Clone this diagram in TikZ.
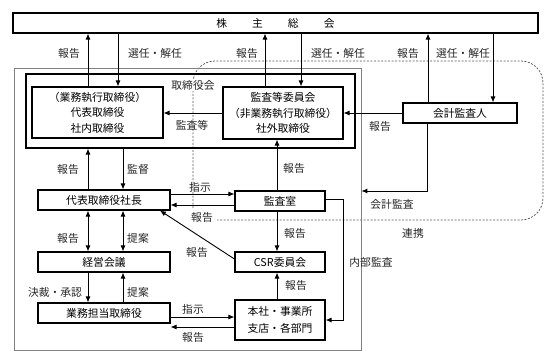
\documentclass[tikz,border=0pt]{standalone}
\usepackage{fontspec}
\setmainfont{Noto Sans CJK JP}
\usetikzlibrary{arrows.meta}
\begin{document}
\begin{tikzpicture}[x=1pt,y=-1pt,
  font=\fontsize{10.8}{15.5}\selectfont,
  box/.style={draw=black,line width=1.1pt,fill=white,rectangle,inner sep=0pt,align=center},
  arr/.style={line width=0.9pt,-{Latex[length=6pt,width=5pt]}},
  darr/.style={line width=0.9pt,{Latex[length=6pt,width=5pt]}-{Latex[length=6pt,width=5pt]}},
  lbl/.style={inner sep=1pt,text=black!85},
  dsh/.style={gray!70!black,line width=0.75pt,dash pattern=on 2pt off 1.5pt}]
\useasboundingbox (0,0) rectangle (556,358);
% dashed cooperation loop
\draw[dsh,rounded corners=22pt] (193,208) -- (193,61) -- (543,61) -- (543,220) -- (217,220);
% outer gray frame and board frame
\node[draw=gray,line width=0.8pt,rectangle,minimum width=347pt,minimum height=282pt,inner sep=0pt] (gray) at (187.5,209) {};
\node[draw=black,line width=1.1pt,rectangle,minimum width=329pt,minimum height=74pt,inner sep=0pt] (board) at (190.5,111) {};
% boxes
\node[box,minimum width=525pt,minimum height=20pt] (top) at (275.5,23) {株\hspace{25pt}主\hspace{25pt}総\hspace{25pt}会};
\node[box,minimum width=131pt,minimum height=51pt] (rep) at (97.5,112.5) {（業務執行取締役）\\代表取締役\\社内取締役};
\node[box,minimum width=120pt,minimum height=52pt] (audcom) at (283,113) {監査等委員会\\（非業務執行取締役）\\社外取締役};
\node[box,minimum width=114pt,minimum height=20pt] (kaikei) at (460,113) {会計監査人};
\node[box,minimum width=132pt,minimum height=20pt] (pres) at (104,200) {代表取締役社長};
\node[box,minimum width=90pt,minimum height=20pt] (kansa) at (280,201) {監査室};
\node[box,minimum width=90pt,minimum height=20pt] (csr) at (280,262) {CSR委員会};
\node[box,minimum width=132pt,minimum height=20pt] (keiei) at (104,262) {経営会議};
\node[box,minimum width=132pt,minimum height=20pt] (gyomu) at (104,313) {業務担当取締役};
\node[box,minimum width=90pt,minimum height=40pt,font=\fontsize{10.8}{16.5}\selectfont] (honsha) at (280,320) {本社・事業所\\支店・各部門};
\node[lbl,fill=white] (lboard) at (193,85) {取締役会};
% arrows to/from shareholders
\draw[arr] (88,0 |- rep.north) -- (88,0 |- top.south);
\draw[arr] (118,0 |- top.south) -- (118,0 |- rep.north);
\draw[arr] (265,0 |- audcom.north) -- (265,0 |- top.south);
\draw[arr] (301,0 |- top.south) -- (301,0 |- audcom.north);
\draw[arr] (428,0 |- kaikei.north) -- (428,0 |- top.south);
\draw[arr] (493,0 |- top.south) -- (493,0 |- kaikei.north);
% horizontal in board
\draw[arr] (audcom.west) -- (audcom.west -| rep.east);
\draw[arr] (kaikei.west) -- (kaikei.west -| audcom.east);
\draw[arr] (427,0 |- kaikei.south) |- (gray.east |- 0,191);
% board <-> president
\draw[arr] (88,0 |- pres.north) -- (88,0 |- board.south);
\draw[arr] (123,0 |- board.south) -- (123,0 |- pres.north);
% president <-> audit office
\draw[arr] (pres.east |- 0,194) -- (kansa.west |- 0,194);
\draw[arr] (kansa.west |- 0,205) -- (pres.east |- 0,205);
\draw[arr] (277,0 |- kansa.north) -- (277,0 |- audcom.south);
\draw[arr] (277,0 |- kansa.south) -- (277,0 |- csr.north);
\draw[arr] (csr.west |- 0,259) -- (160,0 |- pres.south);
\draw[arr] (kansa.east |- 0,199) -- (343,199) |- (honsha.east);
\draw[arr] (277,0 |- honsha.north) -- (277,0 |- csr.south);
% president <-> management meeting
\draw[darr] (88,0 |- pres.south) -- (88,0 |- keiei.north);
\draw[darr] (123,0 |- pres.south) -- (123,0 |- keiei.north);
\draw[arr] (88,0 |- keiei.south) -- (88,0 |- gyomu.north);
\draw[arr] (123,0 |- gyomu.north) -- (123,0 |- keiei.south);
\draw[arr] (gyomu.east |- 0,317) -- (honsha.west |- 0,317);
\draw[arr] (honsha.west |- 0,327) -- (gyomu.east |- 0,327);
% labels
\node[lbl] (l1) at (69,53) {報告};
\node[lbl] (l2) at (155,53) {選任・解任};
\node[lbl] (l3) at (247,53) {報告};
\node[lbl] (l4) at (338,53) {選任・解任};
\node[lbl] (l5) at (408,53) {報告};
\node[lbl] (l6) at (463,53) {選任・解任};
\node[lbl] (l7) at (192,125) {監査等};
\node[lbl] (l8) at (380,126) {報告};
\node[lbl] (l9) at (392,204) {会計監査};
\node[lbl] (l10) at (413,233) {連携};
\node[lbl] (l11) at (68,169) {報告};
\node[lbl] (l12) at (138,169) {監督};
\node[lbl] (l13) at (200,187) {指示};
\node[lbl] (l14) at (202,217) {報告};
\node[lbl] (l15) at (294,168) {報告};
\node[lbl] (l16) at (295,233) {報告};
\node[lbl] (l17) at (197,252) {報告};
\node[lbl] (l18) at (296,285) {報告};
\node[lbl] (l19) at (371,262) {内部監査};
\node[lbl] (l20) at (68,238) {報告};
\node[lbl] (l21) at (138,238) {提案};
\node[lbl] (l22) at (55,292) {決裁・承認};
\node[lbl] (l23) at (138,292) {提案};
\node[lbl] (l24) at (193,309) {指示};
\node[lbl] (l25) at (193,337) {報告};
\end{tikzpicture}
\end{document}
